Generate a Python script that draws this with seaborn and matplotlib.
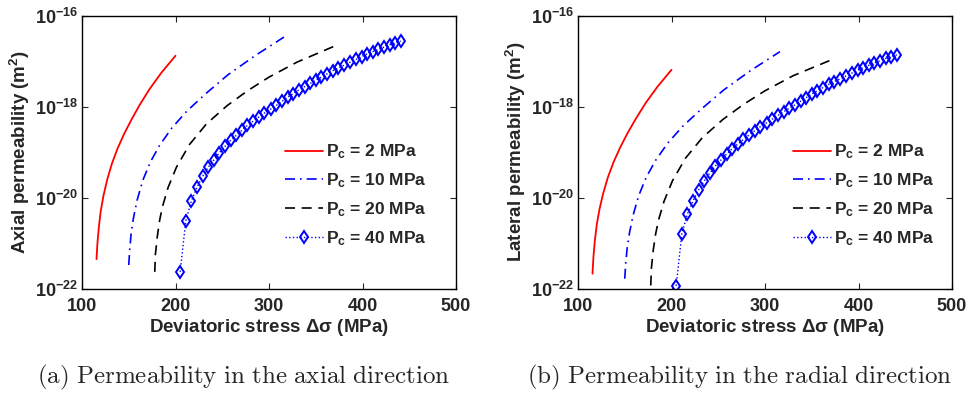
# Permeability vs deviatoric stress, axial and lateral
import numpy as np
import pandas as pd
import matplotlib
matplotlib.use("Agg")
import matplotlib.pyplot as plt
import seaborn as sns

# ---- data (log10 of permeability in m^2) ----
x_2 = [115.5, 116.5, 118, 120, 123, 127, 132, 138, 145, 153, 162, 172, 185, 200]
ax_2 = [-21.35, -21.0, -20.65, -20.3, -19.95, -19.6, -19.25, -18.92, -18.6, -18.28, -17.95, -17.62, -17.25, -16.88]
lat_2 = [-21.67, -21.3, -20.95, -20.6, -20.25, -19.9, -19.55, -19.22, -18.9, -18.58, -18.26, -17.93, -17.56, -17.19]

x_10 = [150, 151, 152.5, 155, 159, 165, 173, 183, 196, 212, 232, 256, 285, 316]
ax_10 = [-21.48, -21.15, -20.8, -20.45, -20.05, -19.62, -19.22, -18.85, -18.47, -18.1, -17.72, -17.3, -16.88, -16.47]
lat_10 = [-21.78, -21.45, -21.12, -20.78, -20.38, -19.95, -19.55, -19.18, -18.8, -18.43, -18.05, -17.63, -17.2, -16.79]

x_20 = [177.8, 178.5, 180.5, 183, 186, 192, 201, 215, 233, 255, 277, 300, 330, 371]
ax_20 = [-21.63, -21.25, -20.86, -20.5, -20.2, -19.78, -19.33, -18.83, -18.38, -17.98, -17.65, -17.35, -17.02, -16.66]
lat_20 = [-21.93, -21.55, -21.15, -20.8, -20.5, -20.08, -19.63, -19.13, -18.68, -18.28, -17.95, -17.65, -17.32, -16.97]

x_40 = [205, 211, 217, 223, 229, 235, 241, 247, 253, 259, 265, 271, 277, 283, 289, 295,
        302, 308, 314, 320, 326, 332, 338, 344, 350, 356, 362, 368, 374, 380,
        387, 393, 399, 405, 411, 417, 423, 429, 435, 441]
ax_40 = [-21.63, -20.51, -20.07, -19.77, -19.53, -19.33, -19.17, -19.01, -18.87, -18.74,
         -18.63, -18.52, -18.41, -18.32, -18.23, -18.14, -18.05, -17.97, -17.88, -17.79,
         -17.71, -17.63, -17.56, -17.49, -17.42, -17.35, -17.28, -17.21, -17.15, -17.09,
         -17.02, -16.96, -16.90, -16.84, -16.79, -16.74, -16.69, -16.64, -16.60, -16.56]
lat_40 = [-21.94, -20.80, -20.36, -20.07, -19.83, -19.63, -19.46, -19.30, -19.17, -19.04,
          -18.92, -18.82, -18.72, -18.62, -18.53, -18.44, -18.35, -18.27, -18.19, -18.11,
          -18.03, -17.96, -17.88, -17.80, -17.72, -17.65, -17.58, -17.51, -17.45, -17.39,
          -17.32, -17.26, -17.20, -17.14, -17.09, -17.04, -16.99, -16.94, -16.90, -16.86]

labels = [r"$\mathbf{P_c}$ = 2 MPa", r"$\mathbf{P_c}$ = 10 MPa",
          r"$\mathbf{P_c}$ = 20 MPa", r"$\mathbf{P_c}$ = 40 MPa"]
xticks = [100, 200, 300, 400, 500]
yticks = [1e-22, 1e-20, 1e-18, 1e-16]
ytick_labels = [r"$\mathbf{10^{-22}}$", r"$\mathbf{10^{-20}}$",
                r"$\mathbf{10^{-18}}$", r"$\mathbf{10^{-16}}$"]
ylabels = [r"Axial permeability (m$\mathbf{^2}$)", r"Lateral permeability (m$\mathbf{^2}$)"]
captions = [r"$\mathrm{(a)\ Permeability\ in\ the\ axial\ direction}$",
            r"$\mathrm{(b)\ Permeability\ in\ the\ radial\ direction}$"]

sns.set_theme(style="ticks")
plt.rcParams["font.family"] = ["Liberation Sans", "DejaVu Sans"]
plt.rcParams["font.weight"] = "bold"
plt.rcParams["mathtext.fontset"] = "custom"
plt.rcParams["mathtext.rm"] = "Liberation Sans:bold"
plt.rcParams["mathtext.bf"] = "Liberation Sans:bold"
plt.rcParams["mathtext.it"] = "Liberation Sans:bold"

styles = [
    dict(color="red", linestyle="-", lw=1.3),
    dict(color="blue", dashes=(6, 3, 1, 3), lw=1.2),
    dict(color="black", dashes=(6, 4), lw=1.2),
    dict(color="blue", linestyle=":", lw=1.0, marker="d", markersize=6.5,
         markerfacecolor="none", markeredgecolor="blue", markeredgewidth=1.4),
]

fig = plt.figure(figsize=(9.69, 3.94), dpi=100)
W, H = 969, 394
lefts = [82, 578]
leg_x = [0.543, 0.575]
cap_x = [244, 740]

series = [
    (ax_2, lat_2, x_2), (ax_10, lat_10, x_10), (ax_20, lat_20, x_20), (ax_40, lat_40, x_40)
]

for p in range(2):
    ax = fig.add_axes([lefts[p] / W, (H - 288.7) / H, 374 / W, 273 / H])
    for (ya, yl, xs), st, lab in zip(series, styles, labels):
        yv = np.power(10.0, ya if p == 0 else yl)
        df = pd.DataFrame({"x": xs, "k": yv})
        sns.lineplot(data=df, x="x", y="k", ax=ax, label=lab, sort=False,
                     estimator=None, **st)
    ax.set_yscale("log")
    ax.set_xlim(100, 500)
    ax.set_ylim(1e-22, 1e-16)
    ax.set_xticks(xticks)
    ax.set_xticklabels([str(t) for t in xticks])
    ax.set_yticks(yticks)
    ax.set_yticklabels(ytick_labels)
    ax.minorticks_off()
    ax.tick_params(axis="both", direction="in", length=4, width=0.8, top=True,
                   right=True, labelsize=13)
    ax.tick_params(axis="x", pad=7)
    ax.tick_params(axis="y", pad=3)
    for s in ax.spines.values():
        s.set_linewidth(1.0)
        s.set_color("black")
    ax.set_xlabel(r"Deviatoric stress $\mathbf{\Delta\sigma}$ (MPa)", fontsize=13.5,
                  fontweight="bold", labelpad=1)
    ax.set_ylabel(ylabels[p], fontsize=13.5, fontweight="bold", labelpad=2)
    leg = ax.legend(loc="upper left", bbox_to_anchor=(leg_x[p], 0.535), frameon=False,
                    fontsize=12.5, handlelength=2.2, handletextpad=0.15,
                    labelspacing=0.58, borderpad=0, borderaxespad=0)
    for t in leg.get_texts():
        t.set_fontweight("bold")
    fig.text(cap_x[p] / W, 1 - 377 / H, captions[p], ha="center",
             va="center", fontsize=18, math_fontfamily="cm")

fig.savefig("out.png", dpi=100)
